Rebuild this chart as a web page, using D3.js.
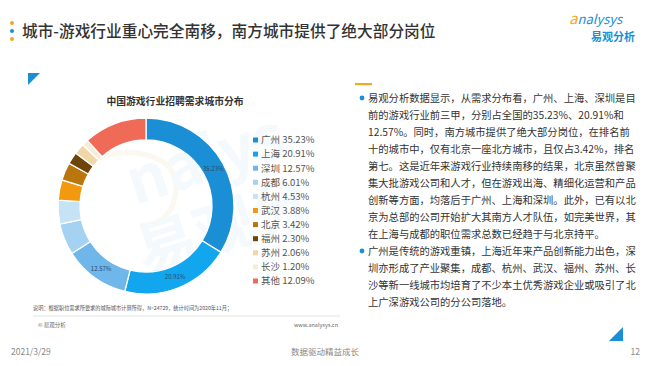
<!DOCTYPE html>
<html>
<head>
<meta charset="utf-8">
<script src="https://cdn.jsdelivr.net/npm/d3@7"></script>
<style>
  body { margin: 0; background: #fff; }
  svg { display: block; font-family: "Noto Sans CJK SC", "Noto Sans", sans-serif; }
</style>
</head>
<body>
<div id="page"></div>
<script>
// 数据
var cities = ["广州", "上海", "深圳", "成都", "杭州", "武汉", "北京", "福州", "苏州", "长沙", "其他"];
var shares = [35.23, 20.91, 12.57, 6.01, 4.53, 3.88, 3.42, 2.30, 2.06, 1.20, 12.09];
var innerLabels = ["35.23%", "20.91%", "12.57%"];

var palette = ["#1b8fd5", "#12a6ee", "#6fb6ea", "#a5d2f2", "#c6e3f6", "#f2990f",
               "#b9760c", "#6e4508", "#efd7a8", "#f7ecd8", "#f06b57"];

var mainTitle = "城市-游戏行业重心完全南移，南方城市提供了绝大部分岗位";
var chartTitle = "中国游戏行业招聘需求城市分布";
var note = "说明：根据职位需求所要求的城际城市计算所得，N=24729，统计时间为2020年11月；";

var para1 = [
  "易观分析数据显示，从需求分布看，广州、上海、深圳是目",
  "前的游戏行业前三甲，分别占全国的35.23%、20.91%和",
  "12.57%。同时，南方城市提供了绝大部分岗位，在排名前",
  "十的城市中，仅有北京一座北方城市，且仅占3.42%，排名",
  "第七。这是近年来游戏行业持续南移的结果，北京虽然曾聚",
  "集大批游戏公司和人才，但在游戏出海、精细化运营和产品",
  "创新等方面，均落后于广州、上海和深圳。此外，已有以北",
  "京为总部的公司开始扩大其南方人才队伍，如完美世界，其",
  "在上海与成都的职位需求总数已经趋于与北京持平。"
];
var para2 = [
  "广州是传统的游戏重镇，上海近年来产品创新能力出色，深",
  "圳亦形成了产业聚集，成都、杭州、武汉、福州、苏州、长",
  "沙等新一线城市均培育了不少本土优秀游戏企业或吸引了北",
  "上广深游戏公司的分公司落地。"
];

var W = 650, H = 366;
var svg = d3.select("#page").append("svg").attr("width", W).attr("height", H);

// 页面标题
var dotColors = ["#f5a623", "#1b8fd5", "#f5a623"];
svg.selectAll("circle.dot").data(dotColors).enter().append("circle")
  .attr("class", "dot")
  .attr("cx", 12)
  .attr("cy", function (d, i) { return 23 + i * 8; })
  .attr("r", 2)
  .attr("fill", function (d) { return d; });
svg.append("text").attr("x", 22).attr("y", 37)
  .attr("font-size", 15.7).attr("font-weight", 500).attr("fill", "#333")
  .text(mainTitle);

// logo
var logo = svg.append("g").attr("transform", "translate(569,0)");
logo.append("text").attr("x", 0).attr("y", 24)
  .attr("font-size", 13).attr("font-style", "italic").attr("fill", "#1b8fd5")
  .html('<tspan fill="#f5a623" font-size="15">a</tspan>nalysys');
logo.append("text").attr("x", 22).attr("y", 41)
  .attr("font-size", 11).attr("font-weight", 700).attr("fill", "#1b8fd5")
  .text("易观分析");

// 左上角三角
svg.append("path").attr("d", "M28,73 L40,73 L28,85 Z").attr("fill", "#1b8fd5");
// 右下角三角
svg.append("path").attr("d", "M623,327 L623,341 L609,341 Z").attr("fill", "#1b8fd5");

// 水印
var wm = svg.append("g").attr("opacity", 0.4);
wm.append("path")
  .attr("d", "M70,215 C60,160 120,140 160,160 C190,175 175,230 140,225")
  .attr("fill", "none").attr("stroke", "#f6eed9").attr("stroke-width", 5);
wm.append("text").attr("x", 135).attr("y", 205)
  .attr("transform", "rotate(-18,135,205)")
  .attr("font-size", 62).attr("font-weight", 700).attr("fill", "#e6f2fb")
  .text("nalys");
wm.append("text").attr("x", 145).attr("y", 275)
  .attr("transform", "rotate(-18,145,275)")
  .attr("font-size", 60).attr("font-weight", 700).attr("fill", "#e6f2fb")
  .text("易观分");

// 图表标题
svg.append("text").attr("x", 175).attr("y", 105)
  .attr("text-anchor", "middle").attr("font-size", 9.8).attr("font-weight", 700)
  .attr("fill", "#333").text(chartTitle);

// 环形图
var cx = 146, cy = 206, outerR = 88, innerR = 66;
var color = d3.scaleOrdinal().domain(cities).range(palette);
var pie = d3.pie().sort(null).value(function (d) { return d.v; });
var arcs = pie(cities.map(function (c, i) { return { name: c, v: shares[i] }; }));
var arc = d3.arc().innerRadius(innerR).outerRadius(outerR);
var labelArc = d3.arc().innerRadius(77).outerRadius(77);

var gPie = svg.append("g").attr("transform", "translate(" + cx + "," + cy + ")");
gPie.selectAll("path").data(arcs).enter().append("path")
  .attr("d", arc)
  .attr("fill", function (d) { return color(d.data.name); })
  .attr("stroke", "#fff").attr("stroke-width", 1.3);
gPie.selectAll("text").data(arcs.slice(0, innerLabels.length)).enter().append("text")
  .attr("transform", function (d) { return "translate(" + labelArc.centroid(d) + ")"; })
  .attr("text-anchor", "middle").attr("dy", "0.35em")
  .attr("font-size", 6).attr("fill", "#2b4a66")
  .text(function (d, i) { return innerLabels[i]; });

// 图例
var legY = d3.scalePoint().domain(cities).range([140, 281]);
var leg = svg.selectAll("g.leg").data(cities).enter().append("g")
  .attr("class", "leg")
  .attr("transform", function (d) { return "translate(253," + legY(d) + ")"; });
leg.append("rect").attr("x", 0).attr("y", -2.5).attr("width", 5).attr("height", 5)
  .attr("fill", function (d) { return color(d); });
leg.append("text").attr("x", 8).attr("dy", "0.35em")
  .attr("font-size", 9.5).attr("fill", "#555")
  .text(function (d, i) { return d + " " + shares[i].toFixed(2) + "%"; });

// 说明 & 来源
svg.append("text").attr("x", 33).attr("y", 310).attr("font-size", 5.2).attr("fill", "#555").text(note);
svg.append("line").attr("x1", 33).attr("x2", 340).attr("y1", 316).attr("y2", 316)
  .attr("stroke", "#ddd").attr("stroke-width", 0.8);
svg.append("text").attr("x", 38).attr("y", 327).attr("font-size", 5.5).attr("fill", "#666").text("© 易观分析");
svg.append("text").attr("x", 338).attr("y", 327).attr("text-anchor", "end")
  .attr("font-size", 5.5).attr("fill", "#666").text("www.analysys.cn");

// 右侧文字
svg.append("rect").attr("x", 355).attr("y", 83).attr("width", 17).attr("height", 2.2).attr("fill", "#f5a623");
var lineH = 17, textX = 368, y0 = 101.5;
function para(lines, startIdx) {
  svg.append("circle").attr("cx", 362).attr("cy", y0 + startIdx * lineH - 3.5).attr("r", 2.4).attr("fill", "#1b8fd5");
  svg.selectAll(null).data(lines).enter().append("text")
    .attr("x", textX)
    .attr("y", function (d, i) { return y0 + (startIdx + i) * lineH; })
    .attr("font-size", 10.3).attr("fill", "#333")
    .text(function (d) { return d; });
}
para(para1, 0);
para(para2, para1.length);

// 页脚
svg.append("text").attr("x", 11).attr("y", 355).attr("font-size", 8.5).attr("fill", "#888").text("2021/3/29");
svg.append("text").attr("x", 325).attr("y", 355).attr("text-anchor", "middle")
  .attr("font-size", 8.5).attr("fill", "#888").text("数据驱动精益成长");
svg.append("text").attr("x", 640).attr("y", 355).attr("text-anchor", "end")
  .attr("font-size", 8.5).attr("fill", "#888").text("12");
</script>
</body>
</html>
